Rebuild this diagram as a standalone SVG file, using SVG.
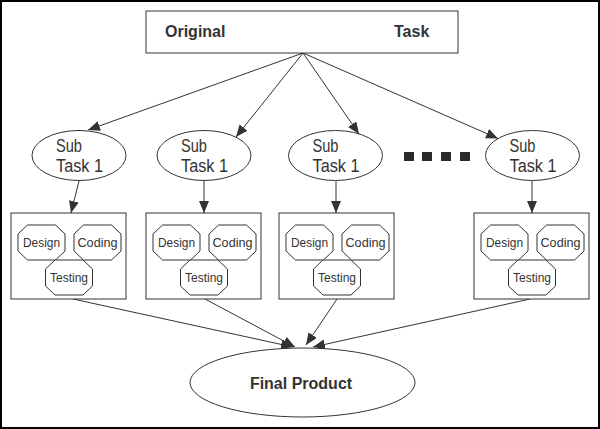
<svg xmlns="http://www.w3.org/2000/svg" width="600" height="429" viewBox="0 0 600 429">
<defs>
<style>
.box{fill:#fff;stroke:#333;stroke-width:1}
.ell{fill:#fff;stroke:#333;stroke-width:1}
.oct{fill:#fff;stroke:#333;stroke-width:1}
.conn{fill:none;stroke:#333;stroke-width:1;marker-end:url(#ah)}
.bt{font-family:"Liberation Sans",Arial,sans-serif;font-weight:bold;font-size:16px;fill:#333}
.st{font-family:"Liberation Sans",Arial,sans-serif;font-size:17.5px;fill:#333}
.ot{font-family:"Liberation Sans",Arial,sans-serif;font-size:13.5px;fill:#333;text-anchor:middle}
.sq{fill:#2b2b2b}
</style>
<marker id="ah" markerUnits="userSpaceOnUse" markerWidth="13" markerHeight="11" refX="12" refY="5" orient="auto">
<path d="M0,0 L12,5 L0,10 z" fill="#333"/>
</marker>
<polygon id="oct" class="oct" points="-14,-17.5 14,-17.5 23.5,-8.5 23.5,8.5 14,17.5 -14,17.5 -23.5,8.5 -23.5,-8.5"/>
<g id="phases">
<rect class="box" x="0" y="0" width="115" height="86"/>
<use href="#oct" x="30.5" y="29.5"/>
<use href="#oct" x="86.5" y="29.5"/>
<use href="#oct" x="58" y="64.5"/>
<text class="ot" x="30.5" y="34" textLength="37" lengthAdjust="spacingAndGlyphs">Design</text>
<text class="ot" x="86.5" y="34" textLength="40" lengthAdjust="spacingAndGlyphs">Coding</text>
<text class="ot" x="58" y="69" textLength="38" lengthAdjust="spacingAndGlyphs">Testing</text>
</g>
</defs>
<rect x="1" y="1" width="598" height="427" fill="#fff" stroke="#000" stroke-width="2"/>

<g id="connectors">
<line class="conn" x1="303" y1="53" x2="88" y2="130"/>
<line class="conn" x1="303" y1="53" x2="236" y2="137"/>
<line class="conn" x1="303" y1="53" x2="359" y2="134"/>
<line class="conn" x1="303" y1="53" x2="498" y2="138.5"/>
<line class="conn" x1="79" y1="181" x2="71" y2="213"/>
<line class="conn" x1="204" y1="181" x2="204" y2="213"/>
<line class="conn" x1="336" y1="181" x2="336" y2="213"/>
<line class="conn" x1="532" y1="181" x2="532" y2="213"/>
<line class="conn" x1="73" y1="299" x2="293" y2="347"/>
<line class="conn" x1="205" y1="299" x2="295" y2="347"/>
<line class="conn" x1="337" y1="299" x2="306" y2="345"/>
<line class="conn" x1="530" y1="299" x2="313" y2="347"/>
</g>

<g id="original-task">
<rect class="box" x="146" y="11" width="312" height="42"/>
<text class="bt" x="165" y="37">Original</text>
<text class="bt" x="394" y="37">Task</text>
</g>

<g id="subtask-1">
<ellipse class="ell" cx="79" cy="155.5" rx="47" ry="25"/>
<text class="st" x="56" y="152" textLength="26" lengthAdjust="spacingAndGlyphs">Sub</text>
<text class="st" x="56" y="172" textLength="47" lengthAdjust="spacingAndGlyphs">Task 1</text>
</g>
<g id="subtask-2">
<ellipse class="ell" cx="204" cy="155.5" rx="47" ry="25"/>
<text class="st" x="181" y="152" textLength="26" lengthAdjust="spacingAndGlyphs">Sub</text>
<text class="st" x="181" y="172" textLength="47" lengthAdjust="spacingAndGlyphs">Task 1</text>
</g>
<g id="subtask-3">
<ellipse class="ell" cx="335.5" cy="155.5" rx="47" ry="25"/>
<text class="st" x="312.5" y="152" textLength="26" lengthAdjust="spacingAndGlyphs">Sub</text>
<text class="st" x="312.5" y="172" textLength="47" lengthAdjust="spacingAndGlyphs">Task 1</text>
</g>
<g id="ellipsis">
<rect class="sq" x="404" y="152" width="10" height="9"/>
<rect class="sq" x="422" y="152" width="10" height="9"/>
<rect class="sq" x="441" y="152" width="10" height="9"/>
<rect class="sq" x="460" y="152" width="10" height="9"/>
</g>
<g id="subtask-4">
<ellipse class="ell" cx="532.5" cy="155.5" rx="47" ry="25"/>
<text class="st" x="509.5" y="152" textLength="26" lengthAdjust="spacingAndGlyphs">Sub</text>
<text class="st" x="509.5" y="172" textLength="47" lengthAdjust="spacingAndGlyphs">Task 1</text>
</g>

<g id="phases-1"><use href="#phases" x="11" y="213"/></g>
<g id="phases-2"><use href="#phases" x="146" y="213"/></g>
<g id="phases-3"><use href="#phases" x="279" y="213"/></g>
<g id="phases-4"><use href="#phases" x="474" y="213"/></g>

<g id="final-product">
<ellipse class="ell" cx="302.5" cy="382.5" rx="112.5" ry="34.5"/>
<text class="bt" x="301" y="389" text-anchor="middle">Final Product</text>
</g>
</svg>
